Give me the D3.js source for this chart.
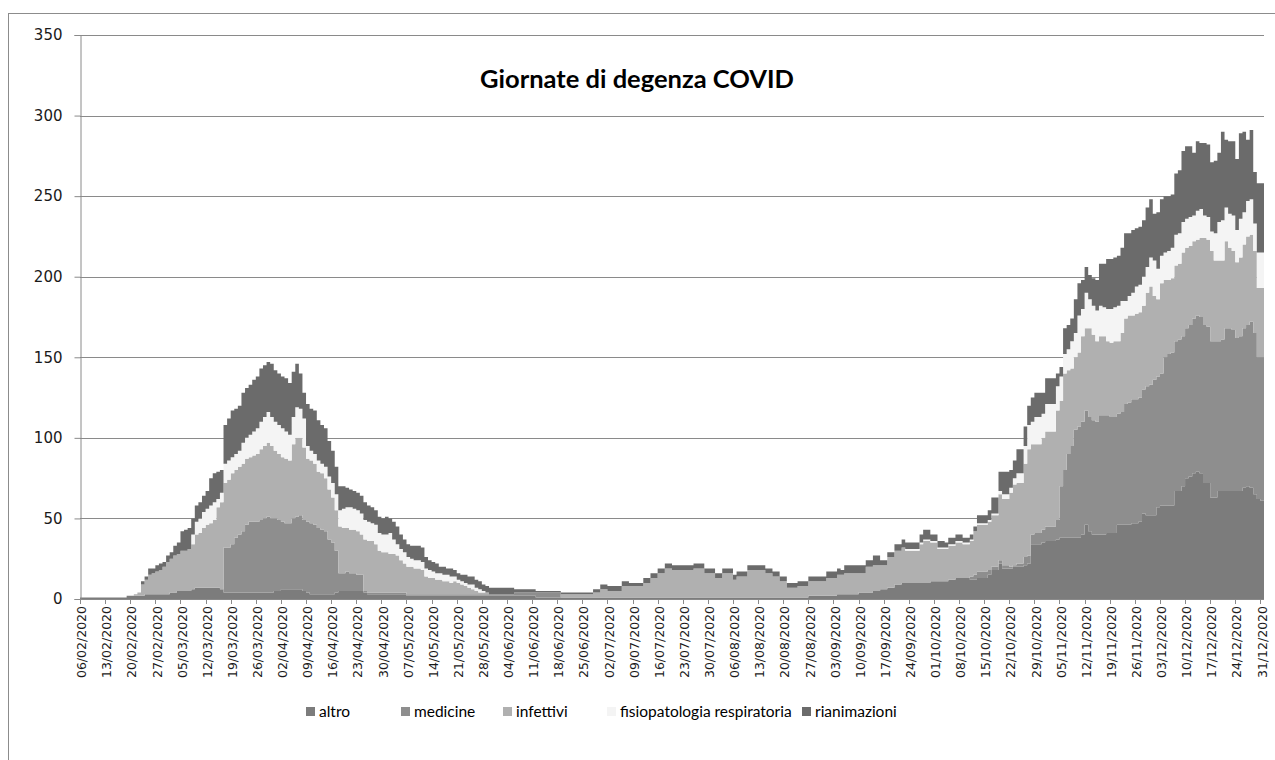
<!DOCTYPE html>
<html>
<head>
<meta charset="utf-8">
<script src="https://cdn.jsdelivr.net/npm/d3@7"></script>
<style>
  body { margin: 0; background: #fff; }
  svg { display: block; }
</style>
</head>
<body>
<div id="chart"></div>
<script>
// series names and colours (stack order, bottom to top)
const seriesNames = ["altro", "medicine", "infettivi", "fisiopatologia respiratoria", "rianimazioni"];
const seriesColors = ["#7c7c7c", "#8e8e8e", "#b0b0b0", "#f4f4f4", "#6b6b6b"];

// one value per day, 06/02/2020 .. 31/12/2020
const altro = [
  1,1,1,1,1,1,1,1,1,1, 1,1,1,2,2,2,2,2,3,3, 3,3,3,3,3,4,4,5,5,5, 5,6,7,7,7,7,7,7,7,6,
  4,4,4,4,4,4,4,4,4,4, 4,4,4,4,5,5,6,6,6,6, 6,6,5,4,3,3,3,3,3,3, 3,4,5,5,5,5,5,5,5,4,
  3,3,3,3,3,3,3,3,3,3, 3,2,2,2,2,2,2,2,2,2, 2,2,2,2,2,2,2,2,2,2, 2,2,2,2,2,2,2,2,2,2,
  2,2,2,2,2,2,2,1,1,1, 1,1,1,1,1,1,1,1,1,1, 1,1,1,1,1,1,1,1,1,1, 1,1,1,1,1,1,1,1,1,1,
  1,1,1,1,1,1,1,1,1,1, 1,1,1,1,1,1,1,1,1,1, 1,1,1,1,1,1,1,1,1,1, 1,1,1,1,1,1,1,1,1,1,
  1,1,1,2,2,2,2,2,2,2, 2,3,3,3,3,3,3,4,4,4, 4,5,5,6,6,7,7,9,9,10, 10,10,10,10,10,10,10,11,11,11,
  11,11,12,12,13,13,13,13,12,12, 13,13,13,15,18,18,22,19,19,19, 20,20,20,21,22,34,34,34,35,36, 36,36,37,38,38,38,38,38,38,40,
  46,42,40,40,40,40,41,41,41,46, 46,46,46,47,47,48,53,52,52,52, 57,58,58,58,58,67,67,70,75,76, 78,79,78,72,72,63,63,67,67,67,
  67,67,67,67,69,70,69,65,62,61
];
const medicine = [
  0,0,0,0,0,0,0,0,0,0, 0,0,0,0,0,0,0,0,0,0, 0,0,0,0,0,0,0,0,0,0, 0,0,0,0,0,0,0,0,0,0,
  28,28,30,34,36,38,42,44,44,44, 45,46,47,46,45,44,42,41,41,44, 45,46,44,44,44,43,41,40,39,34, 32,26,11,11,12,11,11,10,10,1,
  1,1,1,1,1,1,1,1,1,1, 1,1,1,1,1,1,1,1,1,1, 1,1,1,1,1,1,1,1,1,1, 1,1,1,1,1,1,1,1,1,1,
  1,2,2,2,2,2,2,3,3,3, 3,3,3,3,0,0,0,0,0,0, 0,0,0,0,0,0,0,0,0,0, 0,0,0,0,0,0,0,0,0,0,
  0,0,0,0,0,0,0,0,0,0, 0,0,0,0,0,0,0,0,0,0, 0,0,0,0,0,0,0,0,0,0, 0,0,0,0,0,0,0,0,0,0,
  0,0,0,0,0,0,0,0,0,0, 0,0,0,0,0,0,0,0,0,0, 0,0,0,0,0,0,0,0,0,0, 0,0,0,0,0,0,0,0,0,0,
  0,0,0,0,0,0,0,0,2,3, 4,4,4,3,2,2,2,2,2,1, 1,2,2,5,5,6,7,7,8,9, 9,9,12,32,42,52,57,67,69,70,
  71,71,71,70,74,74,73,72,72,69, 70,75,76,77,77,77,77,80,81,84, 81,82,92,94,95,93,94,93,93,94, 96,97,97,98,97,97,97,93,94,101,
  101,100,95,96,99,100,103,100,88,89
];
const infettivi = [
  0,0,0,0,0,0,0,0,0,0, 0,0,0,0,0,1,2,7,9,12, 13,14,15,17,20,21,23,23,25,25, 26,28,33,34,37,39,40,42,50,54,
  40,42,44,42,42,42,41,40,41,42, 44,45,46,45,42,41,40,40,39,46, 49,48,45,39,39,38,35,35,33,31, 28,25,29,28,27,27,27,27,25,32,
  32,32,30,26,25,25,24,24,23,20, 18,17,17,16,16,15,11,10,10,9, 9,8,8,7,8,7,6,5,4,3, 2,1,1,1,0,0,0,0,0,0,
  0,0,0,0,0,0,0,0,0,0, 0,0,0,0,2,2,2,2,2,2, 2,2,2,3,3,5,5,4,4,4, 4,7,7,7,7,7,7,9,9,12,
  12,15,15,18,18,17,17,17,17,17, 17,18,18,18,15,15,15,12,12,15, 15,15,11,13,13,13,17,17,17,17, 17,15,15,13,13,10,10,6,6,6,
  7,7,7,9,9,9,9,9,11,11, 11,12,12,13,13,13,13,12,12,16, 16,16,16,15,15,19,19,21,21,22, 20,20,20,20,24,26,26,24,24,20,
  20,20,21,21,22,22,21,21,22,27, 29,29,29,30,32,32,41,41,41,46, 50,50,50,58,66,56,55,55,57,59, 59,59,68,53,60,52,48,45,46,53,
  51,55,53,50,49,49,46,46,47,45, 49,53,54,52,53,53,52,58,61,52, 48,56,48,46,46,47,47,52,50,49, 48,47,49,54,54,56,50,50,49,54,
  50,49,47,49,52,55,54,51,43,43
];
const fisiopatologia = [
  0,0,0,0,0,0,0,0,0,0, 0,0,0,0,0,0,0,0,0,0, 0,0,0,0,0,0,0,0,0,0, 0,6,8,9,10,10,11,11,5,6,
  12,12,10,10,10,13,13,14,15,16, 17,18,19,18,18,18,18,17,16,17, 19,18,18,8,6,6,7,6,7,8, 9,10,10,12,13,14,13,13,13,12,
  12,11,12,11,11,11,13,9,7,7, 7,6,5,5,5,5,5,5,4,4, 4,4,4,4,3,2,2,2,2,3, 2,2,1,0,0,0,0,0,0,0,
  0,0,0,0,0,0,0,0,0,0, 0,0,0,0,0,0,0,0,0,0, 0,0,0,0,0,0,0,0,0,0, 0,0,0,0,0,0,0,0,0,0,
  0,0,0,0,0,0,0,0,0,0, 0,0,0,0,0,0,0,0,0,0, 0,0,0,0,0,0,0,0,0,0, 0,0,0,0,0,0,0,0,0,0,
  0,0,0,0,0,0,0,0,0,0, 0,0,0,0,0,0,0,0,0,0, 0,0,0,0,0,0,0,0,0,0, 1,1,1,1,1,1,1,1,1,1,
  1,1,1,1,1,1,1,1,1,0, 1,1,1,1,1,1,2,3,3,3, 4,6,6,11,15,14,17,17,15,17, 17,17,15,15,12,13,17,15,23,17,
  22,18,18,19,19,18,20,21,21,22, 20,11,12,14,17,17,18,16,18,22, 19,17,17,18,19,19,19,19,18,18, 16,18,18,14,14,12,17,24,25,21,
  21,22,20,24,20,22,22,17,22,22
];
const rianimazioni = [
  0,0,0,0,0,0,0,0,0,0, 0,0,0,0,0,0,0,2,2,4, 3,4,4,3,4,4,6,7,12,13, 13,10,10,10,10,11,17,18,17,14,
  24,26,29,28,28,31,31,31,32,32, 33,32,31,33,32,32,32,33,32,28, 27,22,16,26,26,27,25,24,24,22, 20,17,15,14,12,11,11,11,11,11,
  10,10,9,10,10,11,9,11,11,9, 8,8,8,9,9,9,7,6,6,6, 4,5,4,5,4,4,4,5,5,5, 5,5,4,4,4,4,4,4,4,4,
  4,2,2,2,2,2,2,1,1,1, 1,1,1,1,1,1,1,1,1,1, 1,1,1,2,2,3,3,3,3,3, 3,3,3,2,2,2,2,3,3,3,
  3,3,3,3,3,3,3,3,3,3, 3,3,3,3,3,3,3,3,3,3, 3,3,3,3,3,3,3,3,3,3, 3,3,3,3,3,3,3,3,3,3,
  3,3,3,3,3,3,3,3,4,4, 4,4,3,5,5,5,5,5,5,4, 4,6,6,3,3,3,3,4,4,5, 4,4,4,4,5,6,6,4,4,4,
  4,3,4,4,4,4,3,3,3,3, 5,5,5,6,10,10,12,14,14,11, 11,15,15,12,12,15,15,15,13,16, 16,16,8,6,16,15,14,21,20,18,
  16,15,17,19,26,27,31,31,31,31, 33,42,39,39,36,36,35,37,36,29, 35,35,35,34,33,38,39,44,45,44, 39,43,41,45,45,43,45,43,55,42,
  45,46,44,53,50,38,43,32,43,43
];

const yTicks = [0, 50, 100, 150, 200, 250, 300, 350];
const titleText = "Giornate di degenza COVID";

// days of the category axis
const days = d3.timeDay.range(new Date(2020, 1, 6), new Date(2021, 0, 1));
const fmt = d3.timeFormat("%d/%m/%Y");
const labelDays = days.filter((d, i) => i % 7 === 0);

const W = 1275, H = 760;
const plot = {left: 80, right: 1264, top: 35, bottom: 599};

const svg = d3.select("#chart").append("svg")
    .attr("width", W)
    .attr("height", H);

// outer chart frame
svg.append("rect")
    .attr("x", 8.5).attr("y", 13.5)
    .attr("width", W + 20).attr("height", H + 20)
    .attr("fill", "none")
    .attr("stroke", "#8c8c8c")
    .attr("stroke-width", 1);

const x = d3.scaleBand()
    .domain(days)
    .range([plot.left, plot.right])
    .padding(0);

const y = d3.scaleLinear()
    .domain([0, 350])
    .range([plot.bottom, plot.top]);

// grid lines
svg.append("g")
    .selectAll("line")
    .data(yTicks.filter(d => d > 0))
    .enter().append("line")
    .attr("x1", plot.left).attr("x2", plot.right)
    .attr("y1", d => Math.round(y(d)) + 0.5)
    .attr("y2", d => Math.round(y(d)) + 0.5)
    .attr("stroke", "#8a8a8a")
    .attr("stroke-width", 1);

// stacked data
const table = days.map((d, i) => ({
    day: d,
    "altro": altro[i],
    "medicine": medicine[i],
    "infettivi": infettivi[i],
    "fisiopatologia respiratoria": fisiopatologia[i],
    "rianimazioni": rianimazioni[i]
}));
const stacked = d3.stack().keys(seriesNames)(table);

const area = d3.area()
    .curve(d3.curveStepAfter)
    .x(d => d.x)
    .y0(d => y(d.y0))
    .y1(d => y(d.y1));

svg.append("g")
    .selectAll("path")
    .data(stacked)
    .enter().append("path")
    .attr("fill", (d, i) => seriesColors[i])
    .attr("d", s => {
        const pts = s.map(p => ({x: x(p.data.day), y0: p[0], y1: p[1]}));
        const last = s[s.length - 1];
        pts.push({x: plot.right, y0: last[0], y1: last[1]});
        return area(pts);
    });

// y axis
const yAxis = svg.append("g")
    .attr("transform", "translate(" + (plot.left + 0.5) + ",0)")
    .call(d3.axisLeft(y).tickValues(yTicks).tickSize(6).tickPadding(12));
yAxis.select(".domain").attr("stroke", "#8a8a8a");
yAxis.selectAll(".tick line").attr("stroke", "#8a8a8a");
yAxis.selectAll("text")
    .style("font-family", "DejaVu Sans")
    .style("font-size", "15px")
    .attr("fill", "#1a1a1a");

// x axis line and ticks (ticks sit at the left edge of each 7th day)
svg.append("line")
    .attr("x1", plot.left).attr("x2", plot.right)
    .attr("y1", plot.bottom + 0.5).attr("y2", plot.bottom + 0.5)
    .attr("stroke", "#8a8a8a");
svg.append("g")
    .selectAll("line")
    .data(labelDays)
    .enter().append("line")
    .attr("x1", d => Math.round(x(d)) + 0.5)
    .attr("x2", d => Math.round(x(d)) + 0.5)
    .attr("y1", plot.bottom)
    .attr("y2", plot.bottom + 5)
    .attr("stroke", "#8a8a8a");

// x labels, rotated
const xAxis = svg.append("g")
    .attr("transform", "translate(0," + plot.bottom + ")")
    .call(d3.axisBottom(x).tickValues(labelDays).tickSize(0).tickFormat(fmt));
xAxis.select(".domain").remove();
xAxis.selectAll("text")
    .attr("transform", "rotate(-90)")
    .attr("text-anchor", "end")
    .attr("x", -7)
    .attr("y", 0)
    .attr("dy", "0.35em")
    .style("font-family", "DejaVu Sans")
    .style("font-size", "12.5px")
    .attr("fill", "#1a1a1a");

// title
svg.append("text")
    .attr("x", 637)
    .attr("y", 88)
    .attr("text-anchor", "middle")
    .style("font-family", "Lato")
    .style("font-weight", 700)
    .style("font-size", "25.5px")
    .attr("fill", "#000")
    .text(titleText);

// legend
const legendX = [306, 401, 503, 607, 802];
const legend = svg.append("g");
seriesNames.forEach((name, i) => {
    legend.append("rect")
        .attr("x", legendX[i]).attr("y", 707)
        .attr("width", 9).attr("height", 9)
        .attr("fill", seriesColors[i]);
    legend.append("text")
        .attr("x", legendX[i] + 13).attr("y", 717)
        .style("font-family", "Lato")
        .style("font-size", "15.5px")
        .attr("fill", "#000")
        .text(name);
});
</script>
</body>
</html>
